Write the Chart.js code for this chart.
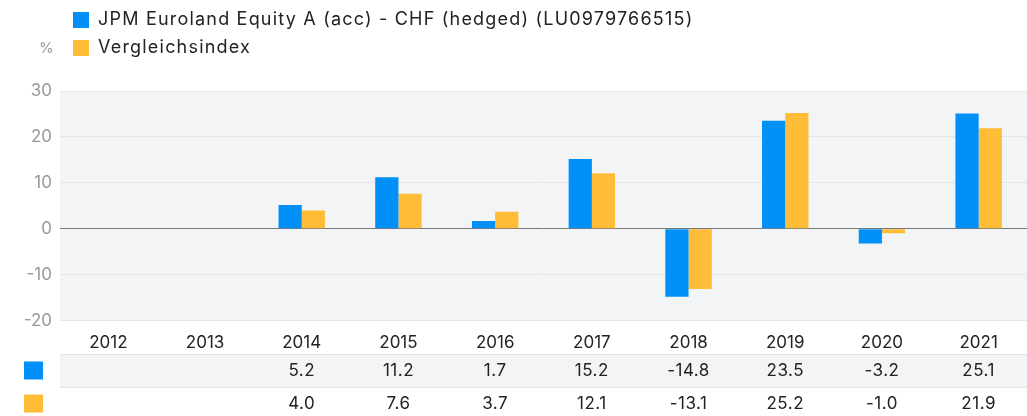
<!DOCTYPE html>
<html>
<head>
<meta charset="utf-8">
<script src="https://cdn.jsdelivr.net/npm/chart.js@4"></script>
<style>
  html, body { margin: 0; padding: 0; background: #fff; }
  #wrap { position: relative; width: 1027px; height: 416px; }
</style>
</head>
<body>
<div id="wrap"><canvas id="grafico" width="1027" height="416"></canvas></div>
<script>
// Daten
const jahre = ["2012", "2013", "2014", "2015", "2016", "2017", "2018", "2019", "2020", "2021"];
const fonds = [null, null, 5.2, 11.2, 1.7, 15.2, -14.8, 23.5, -3.2, 25.1];
const index = [null, null, 4.0, 7.6, 3.7, 12.1, -13.1, 25.2, -1.0, 21.9];
const serienNamen = ["JPM Euroland Equity A (acc) - CHF (hedged) (LU0979766515)", "Vergleichsindex"];
const yTicks = [-20, -10, 0, 10, 20, 30];

const BLAU = "#0090f8";
const ORANGE = "#ffbc37";
const SCHRIFT = "Inter, 'Open Sans', sans-serif";

// Hintergrund der Zeichenfläche
const hintergrund = {
  id: "hintergrund",
  beforeDraw(chart) {
    const { ctx, chartArea: a } = chart;
    ctx.save();
    ctx.fillStyle = "#f3f4f6";
    ctx.fillRect(a.left, a.top, a.right - a.left, a.bottom - a.top);
    ctx.restore();
  }
};

// Legende oben und Wertetabelle unten
const tabelle = {
  id: "tabelle",
  afterDraw(chart) {
    const { ctx, chartArea: a } = chart;
    const x = chart.scales.x;
    ctx.save();

    // Legende
    ctx.font = "18px " + SCHRIFT;
    ctx.letterSpacing = "1.2px";
    ctx.textBaseline = "middle";
    ctx.textAlign = "left";
    [BLAU, ORANGE].forEach((farbe, i) => {
      const y = 20 + i * 28;
      ctx.fillStyle = farbe;
      ctx.fillRect(73, y - 8, 16, 16);
      ctx.fillStyle = "#222";
      ctx.fillText(serienNamen[i], 98, y);
    });
    ctx.letterSpacing = "0px";
    ctx.fillStyle = "#999";
    ctx.font = "15px " + SCHRIFT;
    ctx.fillText("%", 39, 48);

    // Tabellenzeilen
    const zeilen = [fonds, index];
    const farben = [BLAU, ORANGE];
    const top = 354, h = 33;
    ctx.fillStyle = "#f3f4f6";
    ctx.fillRect(a.left, top, chart.width - a.left, h);
    ctx.strokeStyle = "#e3e5e8";
    ctx.lineWidth = 1;
    [top, top + h].forEach(yy => {
      ctx.beginPath();
      ctx.moveTo(a.left, yy + 0.5);
      ctx.lineTo(chart.width, yy + 0.5);
      ctx.stroke();
    });
    ctx.font = "17px " + SCHRIFT;
    ctx.letterSpacing = "0.5px";
    ctx.textAlign = "center";
    zeilen.forEach((werte, r) => {
      const yMitte = top + h / 2 + r * h;
      ctx.fillStyle = farben[r];
      ctx.fillRect(24, yMitte - 9, 19, 18);
      ctx.fillStyle = "#222";
      werte.forEach((v, i) => {
        if (v === null) return;
        ctx.fillText(v.toFixed(1), x.getPixelForValue(i), yMitte);
      });
    });
    ctx.restore();
  }
};

new Chart(document.getElementById("grafico").getContext("2d"), {
  type: "bar",
  data: {
    labels: jahre,
    datasets: [
      { label: serienNamen[0], data: fonds, backgroundColor: BLAU },
      { label: serienNamen[1], data: index, backgroundColor: ORANGE }
    ]
  },
  options: {
    responsive: false,
    animation: false,
    layout: { padding: { top: 91, right: 0, bottom: 59, left: 0 } },
    datasets: { bar: { categoryPercentage: 0.48, barPercentage: 1 } },
    plugins: { legend: { display: false }, tooltip: { enabled: false } },
    scales: {
      x: {
        grid: { display: false },
        border: { display: false },
        ticks: { color: "#222", font: { family: SCHRIFT, size: 17 }, padding: 4, maxRotation: 0 }
      },
      y: {
        min: -20,
        max: 30,
        afterFit(s) { s.width = 60; },
        afterBuildTicks(s) { s.ticks = yTicks.map(v => ({ value: v })); },
        border: { display: false },
        grid: {
          drawTicks: false,
          color: c => (c.tick && c.tick.value === 0 ? "#777" : "#e3e5e8")
        },
        ticks: { color: "#999", font: { family: SCHRIFT, size: 17 }, padding: 8 }
      }
    }
  },
  plugins: [hintergrund, tabelle]
});
</script>
</body>
</html>
